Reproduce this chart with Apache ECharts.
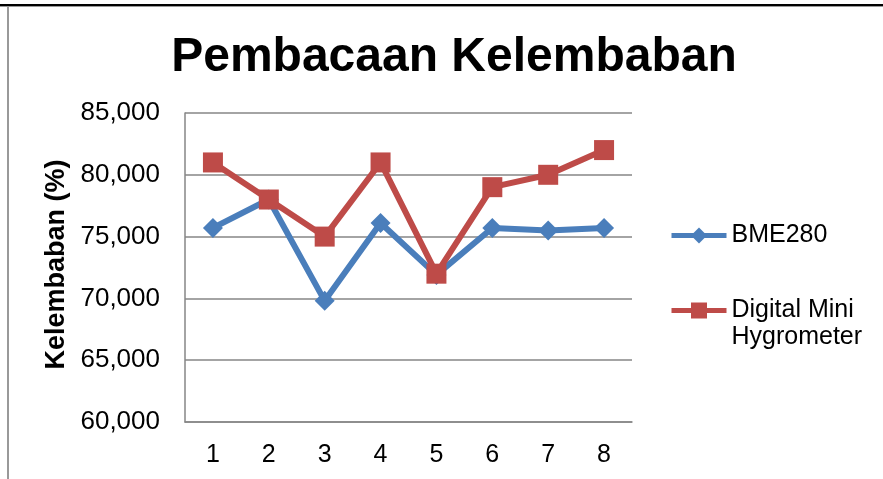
<!DOCTYPE html>
<html>
<head>
<meta charset="utf-8">
<script src="https://cdn.jsdelivr.net/npm/echarts@6/dist/echarts.min.js"></script>
<style>
  html, body { margin: 0; padding: 0; background: #fff; }
  #chart { width: 883px; height: 479px; }
</style>
</head>
<body>
<div id="chart"></div>
<script>
const categories = ['1', '2', '3', '4', '5', '6', '7', '8'];
const bme280 = [75.7, 78.0, 69.8, 76.1, 71.9, 75.7, 75.5, 75.7];
const hygrometer = [81.0, 78.0, 75.0, 81.0, 72.0, 79.0, 80.0, 82.0];
const seriesNames = ['BME280', 'Digital Mini Hygrometer'];

const chart = echarts.init(document.getElementById('chart'), null, { renderer: 'canvas' });
const font = '"Liberation Sans", Arial, sans-serif';
const blue = '#4a7ebb';
const red = '#be4b48';

chart.setOption({
  animation: false,
  textStyle: { fontFamily: font },
  title: {
    text: 'Pembacaan Kelembaban',
    left: 449,
    textAlign: 'center',
    top: 29,
    textStyle: { fontSize: 48, fontWeight: 'bold', color: '#000', fontFamily: font }
  },
  graphic: [
    { type: 'rect', shape: { x: 0, y: 4, width: 883, height: 2 }, style: { fill: '#000' } },
    { type: 'rect', shape: { x: 0, y: 6, width: 883, height: 1 }, style: { fill: '#999' } },
    { type: 'rect', shape: { x: 7, y: 6, width: 2, height: 473 }, style: { fill: '#999' } }
  ],
  legend: [
    {
      data: [seriesNames[0]],
      left: 664, top: 217,
      itemWidth: 55, itemHeight: 20, itemGap: 0,
      lineStyle: { width: 5 },
      textStyle: { fontSize: 25, lineHeight: 27, color: '#000', fontFamily: font }
    },
    {
      data: [seriesNames[1]],
      left: 664, top: 265,
      itemWidth: 55, itemHeight: 20,
      lineStyle: { width: 5 },
      // blank first line so the icon lines up with "Digital Mini"
      formatter: () => ' \nDigital Mini\nHygrometer',
      textStyle: { fontSize: 25, lineHeight: 27, color: '#000', fontFamily: font }
    }
  ],
  grid: { left: 185, right: 251, top: 113, bottom: 57 },
  xAxis: {
    type: 'category',
    data: categories,
    boundaryGap: true,
    axisLine: { lineStyle: { color: '#868686', width: 1.5 } },
    axisTick: { show: false },
    axisLabel: { fontSize: 25, color: '#000', margin: 21, fontFamily: font }
  },
  yAxis: {
    type: 'value',
    min: 60, max: 85, interval: 5,
    name: 'Kelembaban (%)',
    nameLocation: 'middle',
    nameGap: 115,
    nameTextStyle: { fontSize: 27, fontWeight: 'bold', color: '#000', fontFamily: font, padding: [0, 0, 0, 6] },
    axisLine: { show: true, lineStyle: { color: '#868686', width: 1.5 } },
    axisTick: { show: false },
    splitLine: { lineStyle: { color: '#868686', width: 1.5 } },
    axisLabel: {
      fontSize: 26, color: '#000', margin: 25, fontFamily: font,
      formatter: v => v.toFixed(3).replace('.', ',')
    }
  },
  series: [
    {
      name: seriesNames[0],
      type: 'line',
      data: bme280,
      symbol: 'diamond',
      symbolSize: 20,
      lineStyle: { color: blue, width: 6 },
      itemStyle: { color: blue },
      z: 2
    },
    {
      name: seriesNames[1],
      type: 'line',
      data: hygrometer,
      symbol: 'rect',
      symbolSize: 20,
      lineStyle: { color: red, width: 6 },
      itemStyle: { color: red },
      z: 3
    }
  ]
});
</script>
</body>
</html>
